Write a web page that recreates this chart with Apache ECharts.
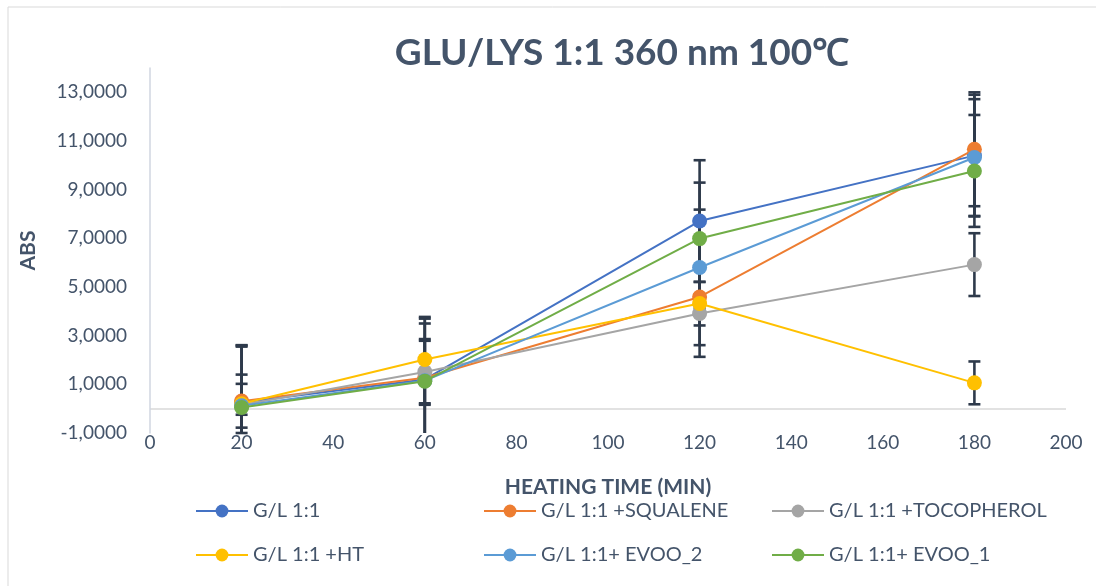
<!DOCTYPE html>
<html>
<head>
<meta charset="utf-8">
<script src="https://cdn.jsdelivr.net/npm/echarts@6/dist/echarts.min.js"></script>
<style>
  html, body { margin: 0; padding: 0; background: #ffffff; }
  #chart { width: 1096px; height: 586px; }
</style>
</head>
<body>
<div id="chart"></div>
<script>
// Heating time (min) and absorbance readings per sample
const times = [20, 60, 120, 180];

const seriesNames = [
  'G/L 1:1',
  'G/L 1:1 +SQUALENE',
  'G/L 1:1 +TOCOPHEROL',
  'G/L 1:1 +HT',
  'G/L 1:1+ EVOO_2',
  'G/L 1:1+ EVOO_1'
];

const glu        = [0.25, 1.20, 7.71, 10.40];
const squalene   = [0.31, 1.27, 4.59, 10.66];
const tocopherol = [0.15, 1.51, 3.91, 5.92];
const ht         = [0.20, 2.02, 4.32, 1.06];
const evoo2      = [0.12, 1.15, 5.80, 10.32];
const evoo1      = [0.05, 1.13, 6.99, 9.77];

// Standard deviations (symmetric error bars)
const gluErr        = [2.35, 2.50, 2.50, 2.50];
const squaleneErr   = [2.30, 2.50, 2.46, 2.34];
const tocopherolErr = [2.40, 1.35, 1.30, 1.29];
const htErr         = [1.20, 0.77, 0.20, 0.88];
const evoo2Err      = [0.90, 2.35, 2.38, 2.40];
const evoo1Err      = [0.30, 0.91, 2.30, 2.30];

const yTicksMin = -1, yMax = 14, yStep = 2;

const colors = ['#4472C4', '#ED7D31', '#A5A5A5', '#FFC000', '#5B9BD5', '#70AD47'];
const values = [glu, squalene, tocopherol, ht, evoo2, evoo1];
const errors = [gluErr, squaleneErr, tocopherolErr, htErr, evoo2Err, evoo1Err];

const textColor = '#44546A';
const errColor = '#2E3A4B';
const fontFamily = 'Lato, "Liberation Sans", sans-serif';

function errorBarItem(params, api) {
  const x = api.value(0);
  const y = api.value(1);
  const e = api.value(2);
  let hi = y + e, lo = y - e;
  const hiClipped = hi > yMax, loClipped = lo < yTicksMin;
  hi = Math.min(hi, yMax);
  lo = Math.max(lo, yTicksMin);
  const pHi = api.coord([x, hi]);
  const pLo = api.coord([x, lo]);
  const capHalf = 6;
  const style = { stroke: errColor, lineWidth: 2.6 };
  const children = [{
    type: 'line',
    shape: { x1: pHi[0], y1: pHi[1], x2: pLo[0], y2: pLo[1] },
    style: style
  }];
  if (!hiClipped) children.push({
    type: 'line',
    shape: { x1: pHi[0] - capHalf, y1: pHi[1], x2: pHi[0] + capHalf, y2: pHi[1] },
    style: style
  });
  if (!loClipped) children.push({
    type: 'line',
    shape: { x1: pLo[0] - capHalf, y1: pLo[1], x2: pLo[0] + capHalf, y2: pLo[1] },
    style: style
  });
  return { type: 'group', children: children };
}

const series = [];
// error bars sit beneath the markers
values.forEach(function (vals, i) {
  series.push({
    type: 'custom',
    name: seriesNames[i] + ' err',
    renderItem: errorBarItem,
    data: times.map(function (t, k) { return [t, vals[k], errors[i][k]]; }),
    z: 1,
    silent: true,
    clip: false
  });
});
values.forEach(function (vals, i) {
  const s = {
    type: 'line',
    name: seriesNames[i],
    data: times.map(function (t, k) { return [t, vals[k]]; }),
    symbol: 'circle',
    symbolSize: 15,
    showSymbol: true,
    color: colors[i],
    lineStyle: { width: 2, color: colors[i] },
    itemStyle: { color: colors[i] },
    z: 2 + i
  };
  if (i === 0) {
    s.markLine = {
      silent: true,
      symbol: 'none',
      label: { show: false },
      lineStyle: { color: '#D9D9D9', width: 1.5, type: 'solid' },
      data: [{ yAxis: 0 }],
      z: 0
    };
  }
  series.push(s);
});

// legend placement: two rows of three
const legendCols = [195, 483, 771];
const legendRows = [501, 545];
const legends = seriesNames.map(function (name, i) {
  return {
    data: [name],
    left: legendCols[i % 3],
    top: legendRows[Math.floor(i / 3)],
    padding: 0,
    itemWidth: 52,
    itemHeight: 16,
    itemGap: 6,
    selectedMode: false,
    textStyle: { color: textColor, fontSize: 20, fontFamily: fontFamily, padding: [0, 0, 0, 0] }
  };
});

const chart = echarts.init(document.getElementById('chart'), null, { renderer: 'canvas' });
chart.setOption({
  backgroundColor: '#ffffff',
  animation: false,
  title: {
    text: 'GLU/LYS 1:1 360 nm 100\u2103',
    left: 617,
    top: 30,
    textAlign: 'center',
    textStyle: { color: textColor, fontSize: 37, fontWeight: 'bold', fontFamily: fontFamily }
  },
  graphic: [{
    type: 'rect',
    shape: { x: 8, y: 7, width: 1200, height: 700 },
    style: { fill: 'none', stroke: '#D9D9D9', lineWidth: 1 },
    silent: true
  }],
  legend: legends,
  grid: { left: 150, right: 30, top: 68, bottom: 153, containLabel: false },
  xAxis: {
    type: 'value',
    min: 0,
    max: 200,
    interval: 20,
    name: 'HEATING TIME (MIN)',
    nameLocation: 'middle',
    nameGap: 44,
    nameTextStyle: { color: textColor, fontSize: 21, fontWeight: 'bold', fontFamily: fontFamily },
    axisLine: { show: false, onZero: false },
    axisTick: { show: false },
    splitLine: { show: false },
    axisLabel: { color: textColor, fontSize: 19, fontFamily: fontFamily, margin: 0, verticalAlign: 'top' }
  },
  yAxis: {
    type: 'value',
    min: yTicksMin,
    max: yMax,
    interval: yStep,
    name: 'ABS',
    nameLocation: 'middle',
    nameGap: 111,
    nameRotate: 90,
    nameTextStyle: { color: textColor, fontSize: 21, fontWeight: 'bold', fontFamily: fontFamily },
    axisLine: { show: true, lineStyle: { color: '#D0D6E0', width: 1.5 } },
    axisTick: { show: false },
    splitLine: { show: false },
    axisLabel: {
      color: textColor,
      fontSize: 19,
      fontFamily: fontFamily,
      margin: 23,
      showMaxLabel: false,
      formatter: function (v) { return v.toFixed(4).replace('.', ','); }
    }
  },
  series: series
});
</script>
</body>
</html>
